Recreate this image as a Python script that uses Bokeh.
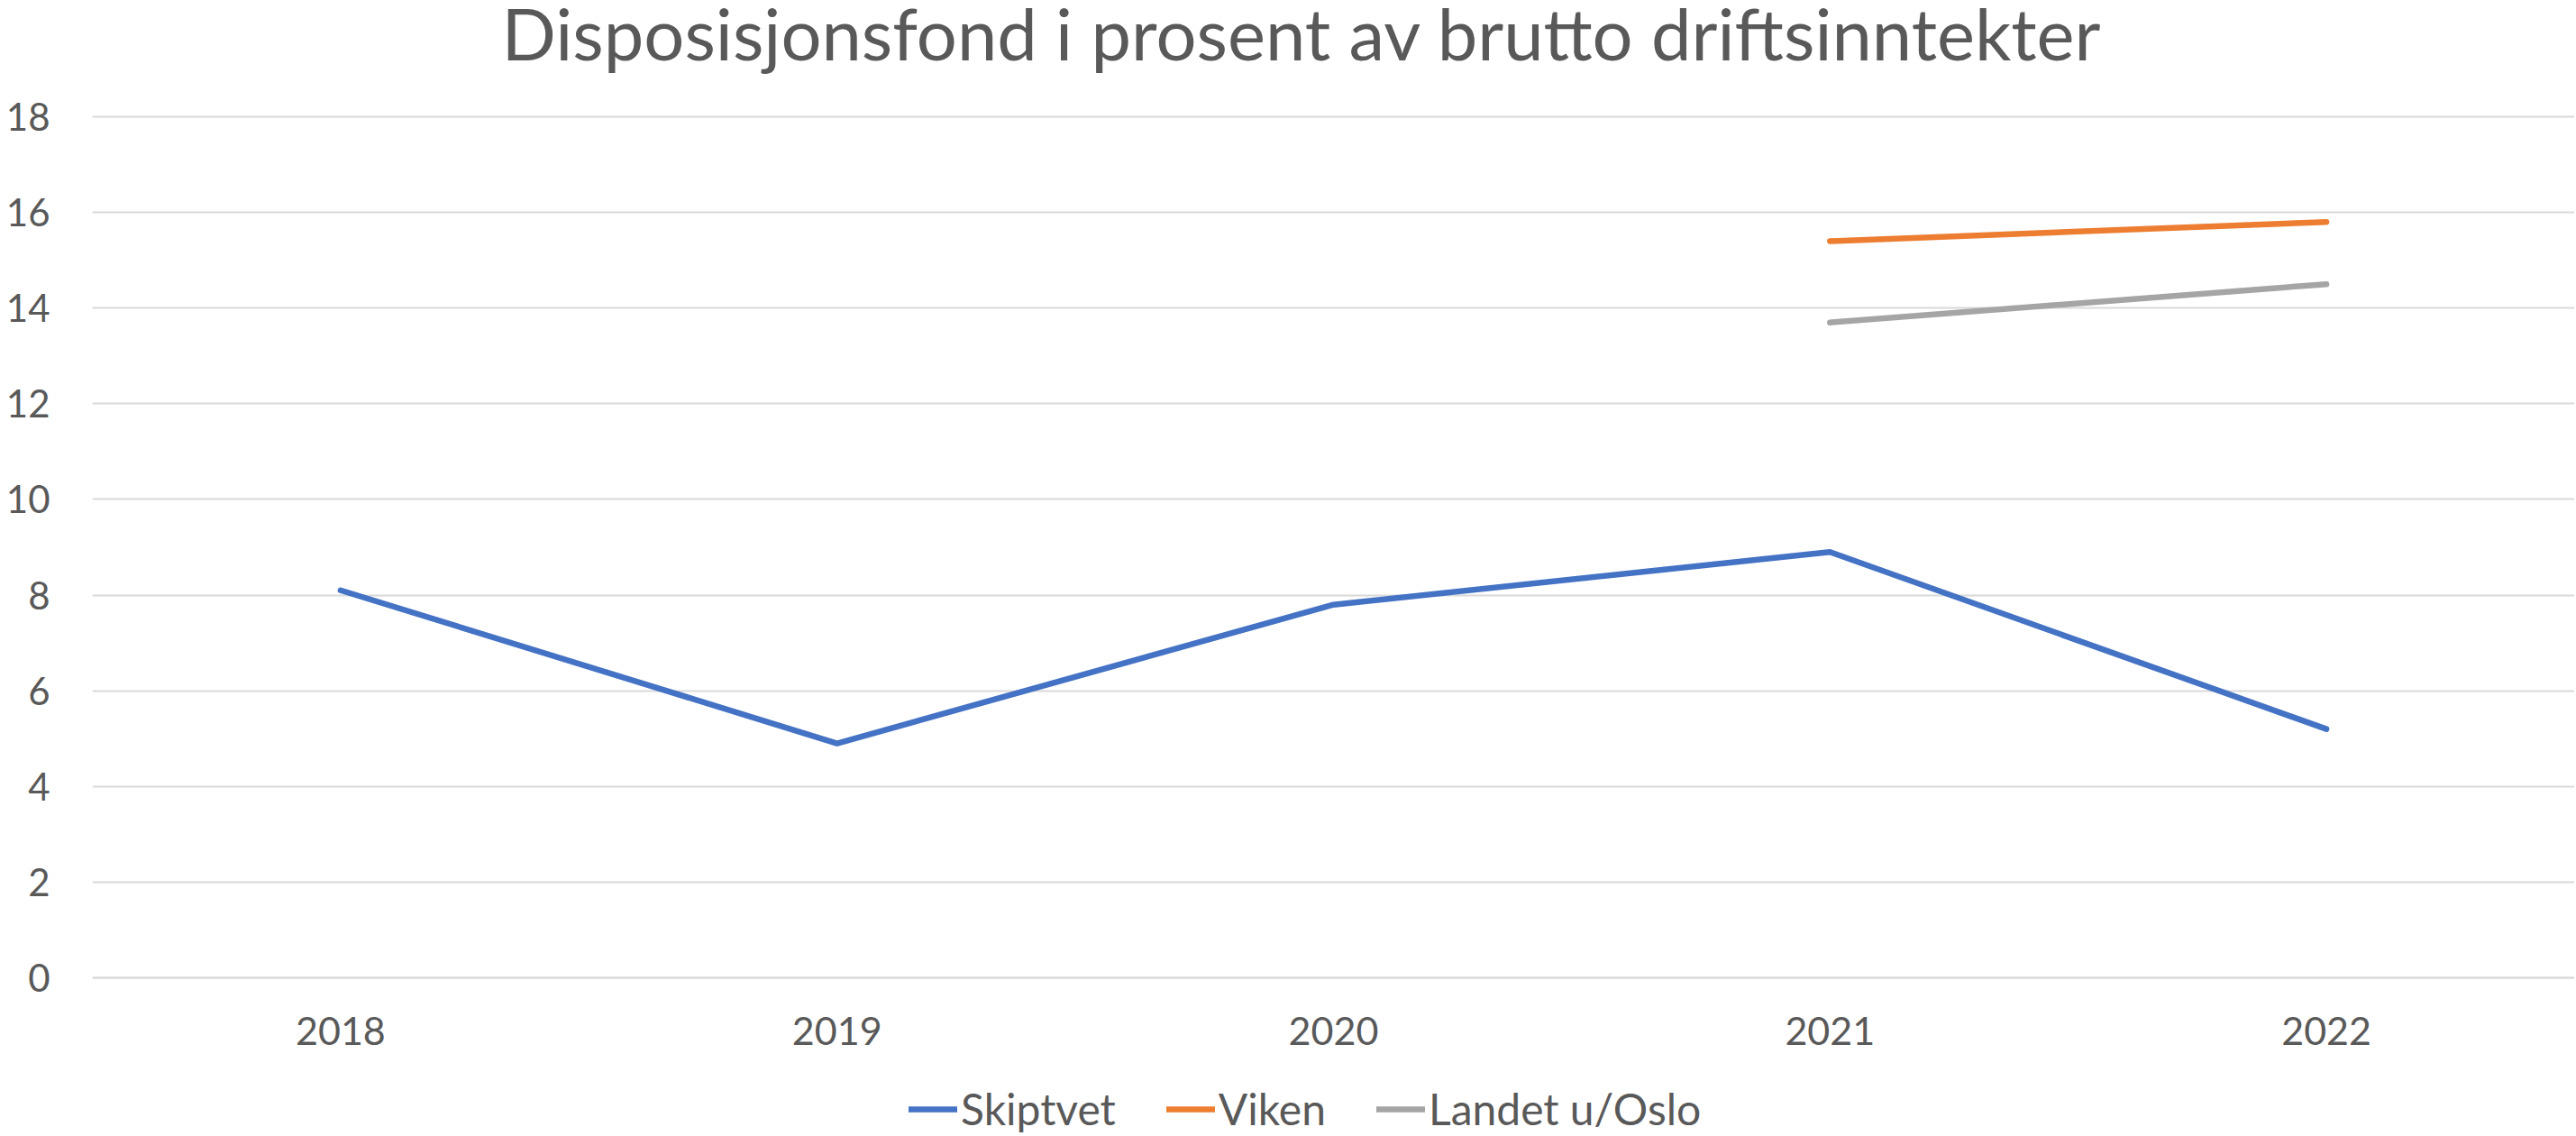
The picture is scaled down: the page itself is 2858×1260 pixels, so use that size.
import numpy as np
from bokeh.plotting import figure
from bokeh.models import Legend, LegendItem, FixedTicker, Range1d, Label
from bokeh.embed import file_html
from bokeh.resources import INLINE

# ---- data ----
years = ["2018", "2019", "2020", "2021", "2022"]
skiptvet = [8.1, 4.9, 7.8, 8.9, 5.2]
viken = [None, None, None, 15.4, 15.8]
landet = [None, None, None, 13.7, 14.5]
series_names = ["Skiptvet", "Viken", "Landet u/Oslo"]
y_ticks = [0, 2, 4, 6, 8, 10, 12, 14, 16, 18]
title_text = "Disposisjonsfond i prosent av brutto driftsinntekter"

colors = ["#4472C4", "#ED7D31", "#A5A5A5"]
text_color = "#595959"
grid_color = "#D9D9D9"
FONT = "Lato"

# ---- layout (pixels) ----
FIG_W, FIG_H = 2856, 1258
LEFT = 102
TOP_18 = 129      # pixel row of value 18 (from top)
BOT_0 = 1084      # pixel row of value 0 (from top)
TITLE_BASE = 36   # pixel row used to anchor the title
px_per_unit = (BOT_0 - TOP_18) / (y_ticks[-1] - y_ticks[0])
y_top = y_ticks[-1] + TOP_18 / px_per_unit
y_bot = y_ticks[0] - (FIG_H - BOT_0) / px_per_unit


def arr(v):
    return np.array([np.nan if x is None else x for x in v], dtype=float)


p = figure(
    x_range=years,
    y_range=Range1d(y_bot, y_top),
    frame_width=FIG_W - LEFT,
    frame_height=FIG_H,
    output_backend="svg",
    toolbar_location=None,
    min_border_left=LEFT,
    min_border_right=0,
    min_border_top=0,
    min_border_bottom=0,
)
p.outline_line_color = None
p.background_fill_color = "white"
p.border_fill_color = "white"

renderers = []
for name, vals, col in zip(series_names, [skiptvet, viken, landet], colors):
    r = p.line(x=years, y=arr(vals), line_color=col, line_width=6.5,
               line_cap="round", line_join="round")
    renderers.append(r)

# y axis
p.yaxis.ticker = FixedTicker(ticks=y_ticks)
p.yaxis.axis_line_color = None
p.yaxis.major_tick_line_color = None
p.yaxis.minor_tick_line_color = None
p.yaxis.major_label_text_font = FONT
p.yaxis.major_label_text_font_size = "42px"
p.yaxis.major_label_text_color = text_color
p.yaxis.major_label_standoff = 41

# x axis, pinned at value 0
p.xaxis.fixed_location = 0
p.xaxis.axis_line_color = grid_color
p.xaxis.axis_line_width = 2
p.xaxis.major_tick_line_color = None
p.xaxis.minor_tick_line_color = None
p.xaxis.major_label_text_font = FONT
p.xaxis.major_label_text_font_size = "43px"
p.xaxis.major_label_text_color = text_color
p.xaxis.major_label_standoff = 37

p.xgrid.grid_line_color = None
p.ygrid.grid_line_color = grid_color
p.ygrid.grid_line_width = 2

# title
title = Label(
    x=1342, x_units="screen",
    y=y_ticks[-1] + (TOP_18 - TITLE_BASE) / px_per_unit, y_units="data",
    text=title_text, text_align="center", text_baseline="alphabetic",
    text_font=FONT, text_font_size="79.5px", text_color=text_color,
)
p.add_layout(title)

legend = Legend(
    items=[LegendItem(label=n, renderers=[r]) for n, r in zip(series_names, renderers)],
    orientation="horizontal",
    location=(906, 0),
    glyph_width=54,
    glyph_height=40,
    label_standoff=4,
    spacing=56,
    label_text_font=FONT,
    label_text_font_size="48px",
    label_text_color=text_color,
    border_line_color=None,
    background_fill_alpha=0,
    margin=0,
    padding=0,
)
p.add_layout(legend, "center")

open("out.html", "w").write(file_html(p, INLINE))
